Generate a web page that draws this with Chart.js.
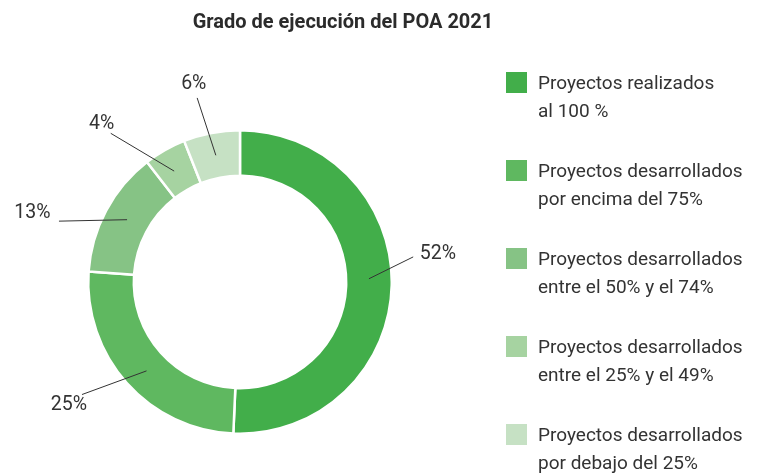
<!DOCTYPE html>
<html lang="es">

<head>
    <meta charset="UTF-8">
    <title>Grado de ejecución del POA 2021</title>
    <style>
        body { margin: 0; background: #fff; font-family: Roboto, "Noto Sans", sans-serif; color: #333; }
        #wrap { position: relative; width: 758px; height: 474px; overflow: hidden; }
        #title { position: absolute; left: 0; width: 686px; top: 9px; text-align: center; font-weight: 700; font-size: 20px; color: #2b2b2b; }
        #legend { position: absolute; left: 506px; top: 71px; }
        .item { position: relative; height: 88px; }
        .box { position: absolute; left: 0; top: 1px; width: 21px; height: 21px; }
        .txt { position: absolute; left: 32px; top: -2px; font-size: 19px; line-height: 28px; white-space: nowrap; color: #333; }
    </style>
</head>

<body>
    <div id="wrap">
        <canvas id="myChart" width="758" height="474"></canvas>
        <div id="title">Grado de ejecución del POA 2021</div>
        <div id="legend"></div>
    </div>

    <script src="https://cdn.jsdelivr.net/npm/chart.js/dist/chart.umd.min.js"></script>
    <script>
        const categories = [
            ['Proyectos realizados', 'al 100 %'],
            ['Proyectos desarrollados', 'por encima del 75%'],
            ['Proyectos desarrollados', 'entre el 50% y el 74%'],
            ['Proyectos desarrollados', 'entre el 25% y el 49%'],
            ['Proyectos desarrollados', 'por debajo del 25%']
        ];
        // slice shares as drawn (measured from the ring)
        const values = [50.7, 25.4, 13.4, 4.5, 6.0];
        // percentages as printed next to the ring
        const pctLabels = ['52%', '25%', '13%', '4%', '6%'];
        const colors = ['#42ae4a', '#5fb860', '#86c385', '#a6d3a1', '#c6e1c4'];

        // html legend
        const legend = document.getElementById('legend');
        categories.forEach((lines, i) => {
            const item = document.createElement('div');
            item.className = 'item';
            item.innerHTML = '<div class="box" style="background:' + colors[i] + '"></div>' +
                '<div class="txt">' + lines.join('<br>') + '</div>';
            legend.appendChild(item);
        });

        // leader lines + percentage labels
        const leaderLabels = {
            id: 'leaderLabels',
            afterDatasetsDraw(chart, args, opts) {
                const ctx = chart.ctx;
                const arcs = chart.getDatasetMeta(0).data;
                ctx.save();
                ctx.strokeStyle = '#333';
                ctx.lineWidth = 1;
                ctx.fillStyle = '#333';
                ctx.font = '19.5px Roboto, sans-serif';
                ctx.textAlign = 'center';
                ctx.textBaseline = 'middle';
                arcs.forEach((arc, i) => {
                    const p = arc.getProps(['x', 'y', 'startAngle', 'endAngle', 'innerRadius', 'outerRadius'], true);
                    const mid = (p.startAngle + p.endAngle) / 2;
                    const deg = Math.PI / 180;
                    const a0 = mid + opts.startShift[i] * deg;
                    const a1 = mid + opts.endShift[i] * deg;
                    const r0 = (p.innerRadius + p.outerRadius) / 2;
                    const r1 = opts.endRadius[i];
                    const r2 = opts.textRadius[i];
                    ctx.beginPath();
                    ctx.moveTo(p.x + Math.cos(a0) * r0, p.y + Math.sin(a0) * r0);
                    ctx.lineTo(p.x + Math.cos(a1) * r1, p.y + Math.sin(a1) * r1);
                    ctx.stroke();
                    ctx.fillText(pctLabels[i], p.x + Math.cos(a1) * r2, p.y + Math.sin(a1) * r2 + 1);
                });
                ctx.restore();
            }
        };

        const config = {
            type: 'doughnut',
            data: {
                labels: categories.map(l => l.join(' ')),
                datasets: [{
                    data: values,
                    backgroundColor: colors,
                    borderColor: '#fff',
                    borderWidth: 2.5,
                    hoverOffset: 0
                }]
            },
            options: {
                responsive: false,
                animation: false,
                cutout: '70%',
                layout: { padding: { left: 87, right: 365, top: 129, bottom: 39 } },
                plugins: {
                    legend: { display: false },
                    tooltip: { enabled: false },
                    leaderLabels: {
                        startShift: [-2.7, -1.8, 0.8, -1, 0],
                        endShift: [-9.5, 6.3, -9.5, -11.3, -2.3],
                        endRadius: [175, 194, 191, 197, 189],
                        textRadius: [200, 210, 219, 211, 204]
                    }
                }
            },
            plugins: [leaderLabels]
        };

        const myChart = new Chart(document.getElementById('myChart'), config);
    </script>
</body>

</html>
